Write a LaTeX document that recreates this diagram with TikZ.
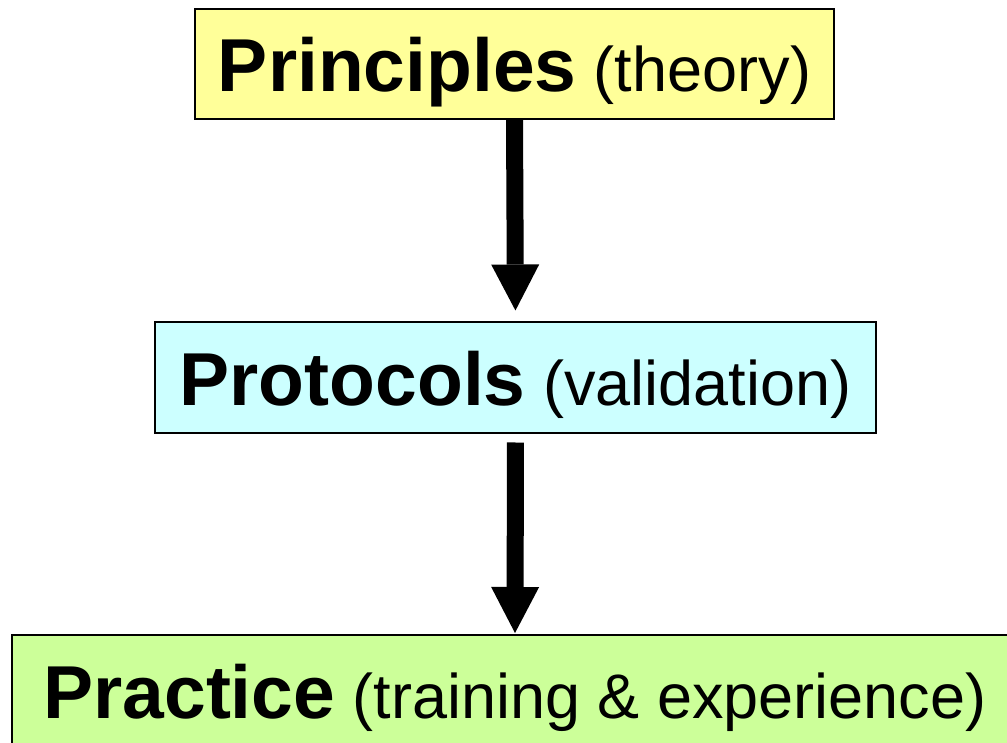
\documentclass[tikz,border=0pt]{standalone}
\usepackage{fontspec}
\setmainfont{Liberation Sans}
\usetikzlibrary{arrows.meta}

\definecolor{theoryfill}{HTML}{FFFF99}
\definecolor{protofill}{HTML}{CCFFFF}
\definecolor{practfill}{HTML}{CCFF99}

\newcommand{\headword}[1]{{\fontsize{75}{75}\selectfont\bfseries #1}}

\begin{document}
\begin{tikzpicture}[x=1pt,y=-1pt,
  stage/.style={draw=black, line width=2pt, rectangle, inner sep=0pt,
    minimum height=110pt, text height=55pt, text depth=0pt,
    font=\fontsize{63}{63}\selectfont},
  flow/.style={line width=17pt,
    -{Triangle[width=48pt,length=46pt,line width=0pt]}}]
  \useasboundingbox (0,0) rectangle (1007,743);

  \node[stage, fill=theoryfill, minimum width=639pt] (principles) at (514.5,64)
    {\headword{Principles} (theory)};
  \node[stage, fill=protofill, minimum width=721pt] (protocols) at (515.5,377.5)
    {\headword{Protocols} (validation)};
  \node[stage, fill=practfill, minimum width=1006pt, minimum height=112pt] (practice) at (515,691)
    {\headword{Practice} (training \& experience)};

  \draw[flow, shorten >=11pt] (principles.south) -- (protocols.north);
  \draw[flow, shorten <=9pt, shorten >=1pt] (protocols.south) -- (practice.north);
\end{tikzpicture}
\end{document}
